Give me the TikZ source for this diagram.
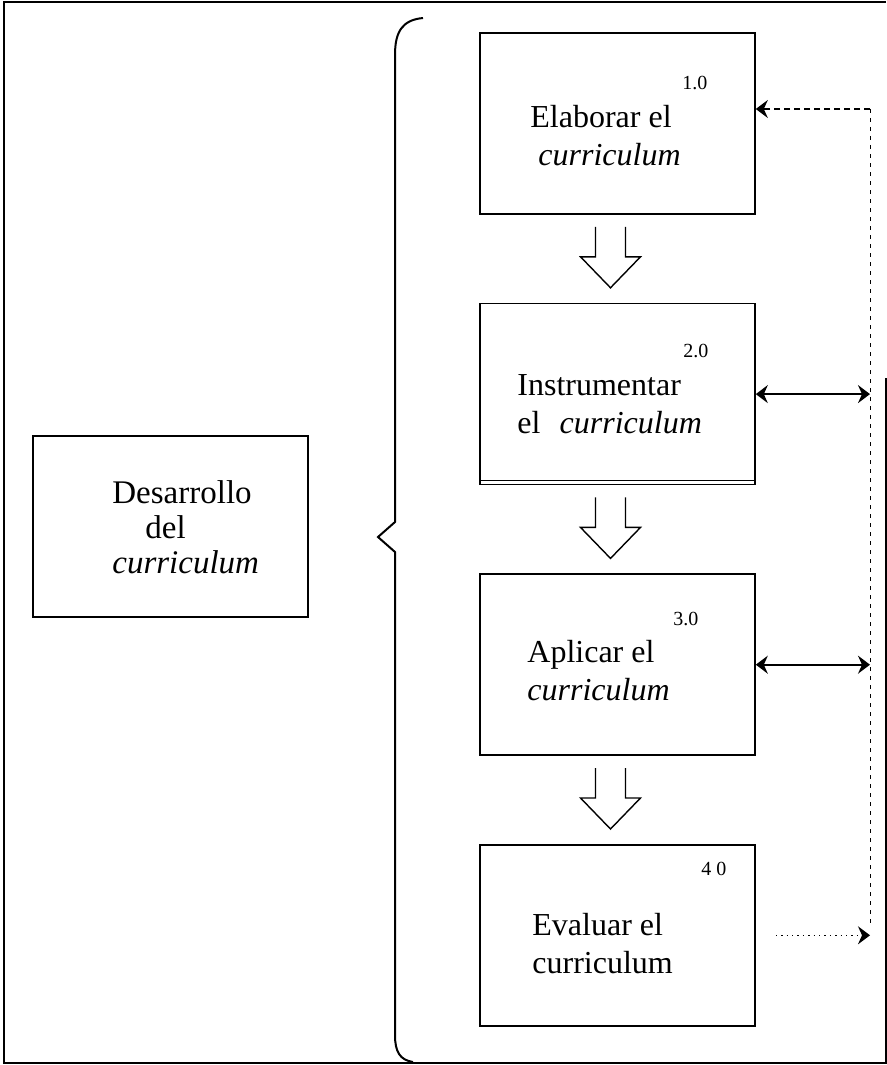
\documentclass[tikz,border=0pt]{standalone}
\usepackage{fontspec}
\setmainfont{Liberation Serif}
\usetikzlibrary{positioning,calc,arrows.meta}

\begin{document}
\begin{tikzpicture}[x=0.5pt, y=-0.5pt, node distance=44pt]
        \tikzstyle{every node}=[font=\fontsize{16}{19}\selectfont]
        \tikzstyle{caja}=[draw, line width=0.8pt, minimum width=137.5pt, minimum height=90.5pt]
        \tikzstyle{texto}=[align=left, anchor=base west, inner sep=0pt]
        \tikzstyle{num}=[font=\fontsize{10}{11}\selectfont, anchor=base west, inner sep=0pt]
        \tikzstyle{flecha}=[line width=0.7pt, -{Stealth[length=6pt, width=9pt, inset=2pt]}]
        \tikzstyle{doble}=[line width=0.8pt, {Stealth[length=6pt, width=9pt, inset=2pt]}-{Stealth[length=6pt, width=9pt, inset=2pt]}]
        \tikzstyle{hueca}=[line width=0.7pt]

        \useasboundingbox (0,0) rectangle (887,1065);

        % marco
        \draw[line width=0.7pt] (886,378) -- (886,1063) -- (4,1063) -- (4,2) -- (886,2);

        \node[caja] (d) at (170.5,526.5) {};
        \node[texto, font=\fontsize{16.5}{17.5}\selectfont] (td) at (112,573) {Desarrollo\\\hspace*{1em}del\\\textit{curriculum}};

        % llave
        \draw[line width=1pt] (423,18) .. controls (402,20) and (395,32) .. (395,55) -- (395,522) -- (378,537) -- (395,552) -- (395,1035) .. controls (395,1052) and (400,1060) .. (413,1062);

        \node[caja] (1) at (617.5,123.5) {};
        \node[caja, below=of 1] (2) {};
        \node[caja, below=of 2] (3) {};
        \node[caja, below=of 3] (4) {};
        \draw[line width=0.4pt] ([yshift=2.5pt]2.south west) -- ([yshift=2.5pt]2.south east);

        \node[texto] (t1) at (530,165) {Elaborar el\\\hspace*{0.25em}\textit{curriculum}};
        \node[num] (n1) at (682,90) {1.0};
        \node[texto] (t2) at (517,433) {Instrumentar\\el\hspace{0.6em}\textit{curriculum}};
        \node[num] (n2) at (683,357) {2.0};
        \node[texto] (t3) at (527,700) {Aplicar el\\\textit{curriculum}};
        \node[num] (n3) at (673,625) {3.0};
        \node[texto] (t4) at (532,973) {Evaluar el\\curriculum};
        \node[num] (n4) at (701,875) {4 0};

        \foreach \a/\b in {1/2, 2/3, 3/4} {
            \coordinate (m\a) at ($(\a.south)!.5!(\b.north)$);
            \draw[hueca] ($(m\a)+(-22,-32)$) -- ++(0,30) -- ++(-15,0) -- ++(30,31) -- ++(30,-31) -- ++(-15,0) -- ++(0,-30);
        }

        % retroalimentacion
        \coordinate (r) at (870,109);
        \draw[flecha, dash pattern=on 3pt off 2pt] (r) -- (1.east |- r);
        \draw[line width=0.5pt, dash pattern=on 2pt off 2.5pt] (r) -- ([yshift=6pt]r |- 4.east);
        \draw[doble] (2.east) -- (2.east -| r);
        \draw[doble] (3.east) -- (3.east -| r);
        \coordinate (s) at ($(4.east)+(20,0)$);
        \draw[flecha, dotted] (s) -- (4.east -| r);

    \end{tikzpicture}
\end{document}
